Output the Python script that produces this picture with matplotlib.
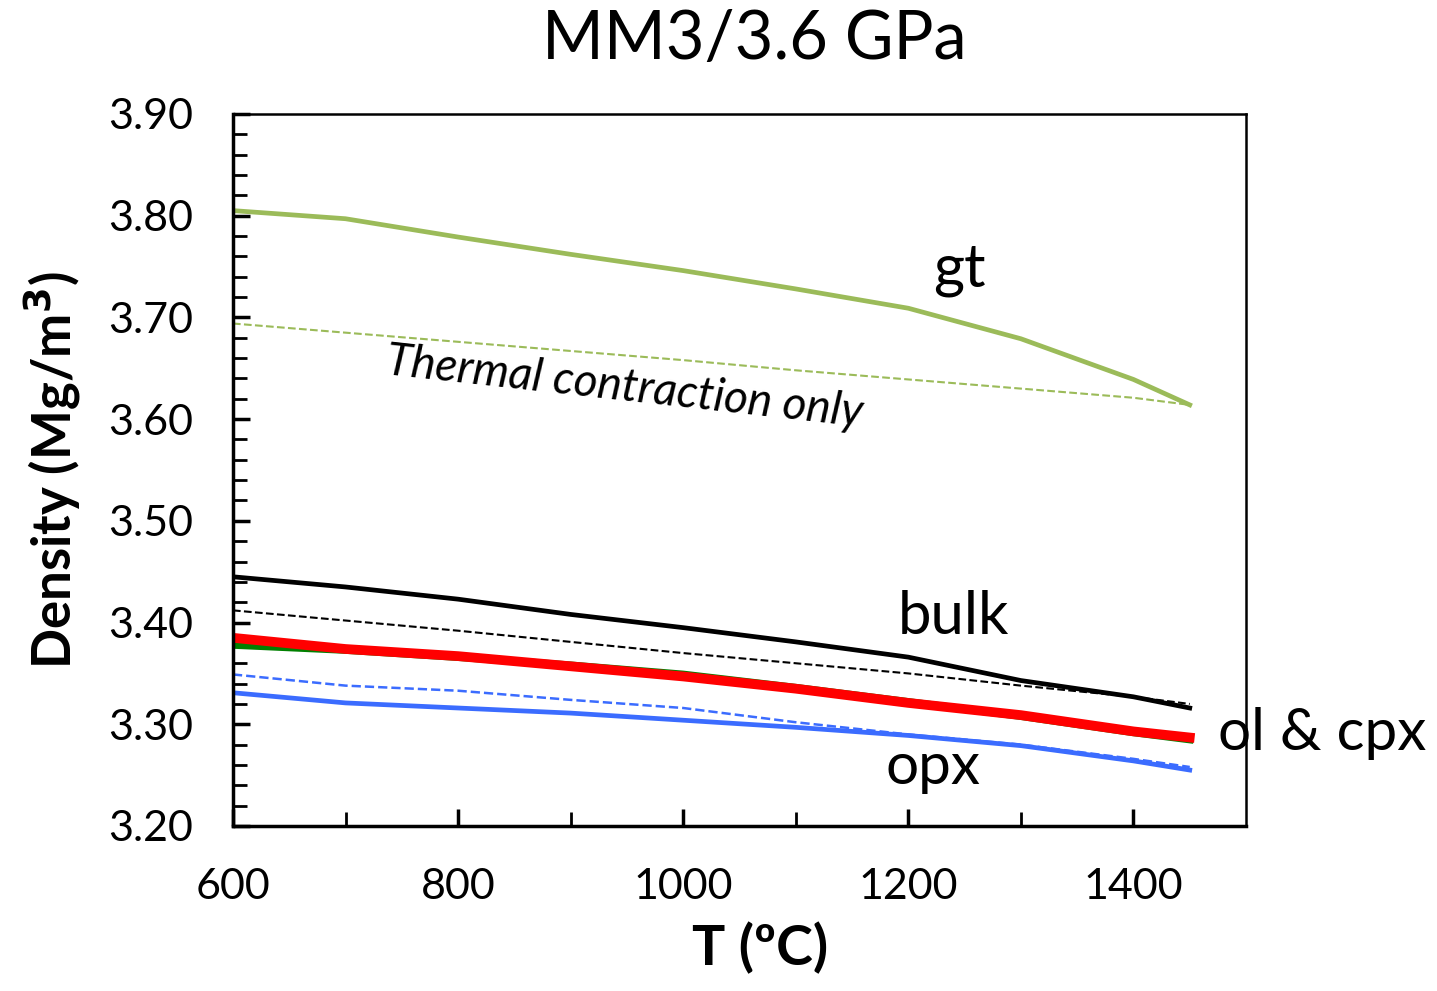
import matplotlib.pyplot as plt

plt.rcParams['font.family'] = ['Lato', 'DejaVu Sans']

T = [600, 700, 800, 900, 1000, 1100, 1200, 1300, 1400, 1450]

gt = [3.805, 3.797, 3.779, 3.762, 3.746, 3.728, 3.709, 3.679, 3.639, 3.614]
gt_th = [3.694, 3.685, 3.676, 3.667, 3.658, 3.648, 3.639, 3.630, 3.621, 3.614]

bulk = [3.445, 3.435, 3.423, 3.408, 3.395, 3.381, 3.366, 3.343, 3.327, 3.316]
bulk_th = [3.412, 3.402, 3.392, 3.381, 3.370, 3.360, 3.350, 3.338, 3.327, 3.320]

ol = [3.385, 3.374, 3.367, 3.357, 3.347, 3.335, 3.321, 3.309, 3.293, 3.287]
ol_th = [3.381, 3.373, 3.365, 3.356, 3.347, 3.336, 3.323, 3.310, 3.295, 3.288]

cpx = [3.378, 3.373, 3.366, 3.358, 3.349, 3.336, 3.322, 3.308, 3.292, 3.285]
cpx_th = [3.379, 3.372, 3.365, 3.357, 3.348, 3.337, 3.323, 3.309, 3.294, 3.286]

opx = [3.331, 3.321, 3.316, 3.311, 3.304, 3.297, 3.289, 3.279, 3.264, 3.255]
opx_th = [3.349, 3.338, 3.333, 3.324, 3.316, 3.302, 3.290, 3.280, 3.266, 3.258]

fig = plt.figure(figsize=(14.37, 9.91), dpi=100)
ax = fig.add_axes([0.1621, 0.1665, 0.705, 0.7185])

# thermal contraction only (dashed)
ax.plot(T, gt_th, '--', color='#9BBB59', lw=1.5)
ax.plot(T, bulk_th, '--', color='black', lw=1.5)
ax.plot(T, opx_th, '--', color='#3B6CFF', lw=1.8)
ax.plot(T, cpx_th, '--', color='#008000', lw=1.5)
ax.plot(T, ol_th, '--', color='#FF0000', lw=1.5)

# full curves
ax.plot(T, gt, color='#9BBB59', lw=3.4)
ax.plot(T, bulk, color='black', lw=3.4)
ax.plot(T, cpx, color='#008000', lw=5.5)
ax.plot(T, ol, color='#FF0000', lw=7)
ax.plot(T, opx, color='#3B6CFF', lw=3.4)

ax.set_xlim(600, 1500)
ax.set_ylim(3.20, 3.90)
ax.set_xticks([600, 800, 1000, 1200, 1400])
ax.set_xticks([700, 900, 1100, 1300], minor=True)
ax.set_yticks([3.2, 3.3, 3.4, 3.5, 3.6, 3.7, 3.8, 3.9])
ax.set_yticks([3.2 + 0.02 * i for i in range(36)], minor=True)
ax.set_yticklabels(['%.2f' % v for v in ax.get_yticks()])

ax.tick_params(axis='both', which='major', direction='in', length=12, width=2.5, labelsize=31)
ax.tick_params(axis='both', which='minor', direction='in', length=10, width=2)
ax.tick_params(axis='x', which='major', pad=30)
ax.tick_params(axis='y', which='major', pad=29)

for s in ['left', 'bottom']:
    ax.spines[s].set_linewidth(2.5)
for s in ['top', 'right']:
    ax.spines[s].set_linewidth(1.8)

ax.set_xlabel('T (ºC)', fontsize=40, fontweight='bold', labelpad=8)
ax.xaxis.set_label_coords(0.52, -0.135)
ax.set_ylabel('Density (Mg/m$^\\mathbf{3}$)', fontsize=38, fontweight='bold', labelpad=18)
fig.text(0.525, 0.96, 'MM3/3.6 GPa', fontsize=48, ha='center', va='center')

ax.text(1245, 3.747, 'gt', fontsize=43, ha='center', va='center')
ax.text(948, 3.631, 'Thermal contraction only', fontsize=33, style='italic',
        ha='center', va='center', rotation=-6.3)
ax.text(1240, 3.405, 'bulk', fontsize=43, ha='center', va='center')
ax.text(1568, 3.291, 'ol & cpx', fontsize=42, ha='center', va='center', clip_on=False)
ax.text(1222, 3.258, 'opx', fontsize=42, ha='center', va='center')

fig.savefig('out.png', dpi=100)
